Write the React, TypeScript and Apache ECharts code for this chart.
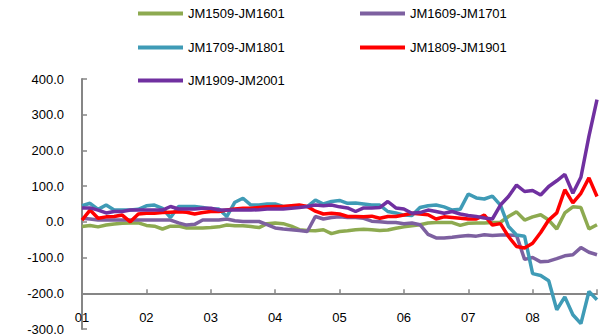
import React, { useEffect, useRef } from "react";
import * as echarts from "echarts";

const monthLabels = ["01", "02", "03", "04", "05", "06", "07", "08", "09"];
const pointsPerMonth = 8;

const seriesNames = ["JM1509-JM1601", "JM1609-JM1701", "JM1709-JM1801", "JM1809-JM1901", "JM1909-JM2001"];
const seriesColors = ["#8DAA50", "#7D60A0", "#3F9BB6", "#FF0000", "#7030A0"];

const jm1509 = [
  -13, -10, -14, -9, -6, -4, -3, -3, -10, -12, -20, -12, -12, -17, -17, -17,
  -16, -14, -9, -11, -11, -13, -16, -5, -3, -5, -12, -22, -24, -25, -22,
  -33, -27, -25, -22, -21, -22, -24, -23, -18, -14, -11, -8, -3, -2, -2, -2,
  -10, -4, -3, -3, -2, -1, 15, 28, 5, 14, 20, 5, -20, 25, 42, 40, -20, -8,
];
const jm1609 = [
  10, 8, 5, 5, 5, 5, 5, 5, 5, 5, 5, 5, -3, -9, -7, 5,
  5, 5, 8, 3, 1, 1, 1, -8, -17, -20, -22, -24, -27, 15, 8,
  12, 14, 12, 12, 10, 2, 0, -2, -2, -5, -3, -8, -35, -45, -45, -43,
  -40, -38, -40, -36, -38, -37, -37, -38, -105, -100, -112, -110, -103, -95, -92, -72, -85, -92,
];
const jm1709 = [
  45, 52, 35, 47, 33, 33, 33, 35, 45, 47, 38, 12, 43, 43, 43, 40,
  36, 36, 15, 55, 66, 47, 47, 50, 50, 43, 43, 43, 43, 61, 50,
  57, 60, 52, 53, 50, 47, 47, 29, 25, 19, 18, 40, 45, 47, 42, 33,
  35, 78, 67, 64, 72, 47, -13, -37, -40, -145, -150, -165, -246, -210, -260, -285, -195, -218,
];
const jm1809 = [
  5, 33, 10, 14, 15, 19, 0, 22, 24, 24, 26, 27, 28, 27, 22, 26,
  29, 29, 33, 36, 38, 38, 40, 42, 43, 43, 45, 47, 43, 30, 22,
  24, 22, 15, 15, 14, 16, 10, 15, 15, 19, 24, 22, 20, 8, 14, 12,
  10, 8, 8, 19, -9, -5, -41, -69, -73, -60, -30, 5, 25, 90, 53, 80, 123, 71,
];
const jm1909 = [
  39, 39, 33, 25, 29, 29, 33, 33, 33, 33, 33, 43, 36, 36, 36, 38,
  38, 33, 33, 33, 33, 33, 34, 36, 36, 36, 38, 40, 43, 47, 45,
  47, 42, 39, 29, 39, 39, 40, 57, 39, 36, 24, 26, 33, 29, 24, 29,
  22, 18, 15, 11, 8, 47, 71, 103, 85, 88, 75, 99, 115, 133, 80, 125, 240, 342,
];
const seriesData = [jm1509, jm1609, jm1709, jm1809, jm1909];

const yMin = -300;
const yMax = 400;
const yStep = 100;
const xAxisAt = -200;

const categories: string[] = [];
monthLabels.forEach((m, mi) => {
  const n = mi === monthLabels.length - 1 ? 1 : pointsPerMonth;
  for (let k = 0; k < n; k++) categories.push(m + "-" + (k + 1));
});

const FONT = "'Liberation Sans', Arial, sans-serif";

export default function App() {
  const ref = useRef<HTMLDivElement>(null);
  useEffect(() => {
    if (!ref.current) return;
    const chart = echarts.init(ref.current, null, { renderer: "svg" });
    const gridTop = 79;
    const gridBottom = 7;
    const gridHeight = 336 - gridTop - gridBottom;
    const xOffset = -((xAxisAt - yMin) / (yMax - yMin)) * gridHeight;
    const legendPos = [
      { left: 133, top: 2 },
      { left: 355, top: 2 },
      { left: 133, top: 36 },
      { left: 355, top: 36 },
      { left: 133, top: 69 },
    ];
    chart.setOption({
      animation: false,
      textStyle: { fontFamily: FONT },
      grid: { left: 82, right: 6, top: gridTop, bottom: gridBottom, containLabel: false },
      legend: seriesNames.map((n, i) => ({
        data: [n],
        left: legendPos[i].left,
        top: legendPos[i].top,
        icon: "rect",
        itemWidth: 45,
        itemHeight: 4,
        itemGap: 0,
        textStyle: { fontSize: 13, color: "#000", fontFamily: FONT },
        selectedMode: false,
      })),
      xAxis: {
        type: "category",
        data: categories,
        boundaryGap: false,
        offset: xOffset,
        axisLine: { onZero: false, lineStyle: { color: "#868686", width: 2 } },
        axisTick: {
          inside: true,
          length: 4,
          lineStyle: { color: "#868686", width: 1.5 },
          interval: (idx: number) => idx % pointsPerMonth === 0,
        },
        axisLabel: {
          margin: 18,
          fontSize: 13,
          color: "#000",
          fontFamily: FONT,
          interval: (idx: number) => idx % pointsPerMonth === 0 && idx < categories.length - 1,
          formatter: (v: string) => v.slice(0, 2),
        },
        splitLine: { show: false },
      },
      yAxis: {
        type: "value",
        min: yMin,
        max: yMax,
        interval: yStep,
        axisLine: { show: true, lineStyle: { color: "#868686", width: 2 } },
        axisTick: { show: true, inside: true, length: 5, lineStyle: { color: "#868686", width: 1.5 } },
        axisLabel: {
          margin: 18,
          fontSize: 13,
          color: "#000",
          fontFamily: FONT,
          formatter: (v: number) => v.toFixed(1),
        },
        splitLine: { show: false },
      },
      series: seriesNames.map((n, i) => ({
        name: n,
        type: "line",
        data: seriesData[i],
        showSymbol: false,
        symbol: "none",
        lineStyle: { color: seriesColors[i], width: 3.5 },
        itemStyle: { color: seriesColors[i] },
        clip: false,
      })),
    });
    return () => chart.dispose();
  }, []);
  return <div ref={ref} style={{ width: 603, height: 336, position: "absolute", left: 0, top: 0 }} />;
}
